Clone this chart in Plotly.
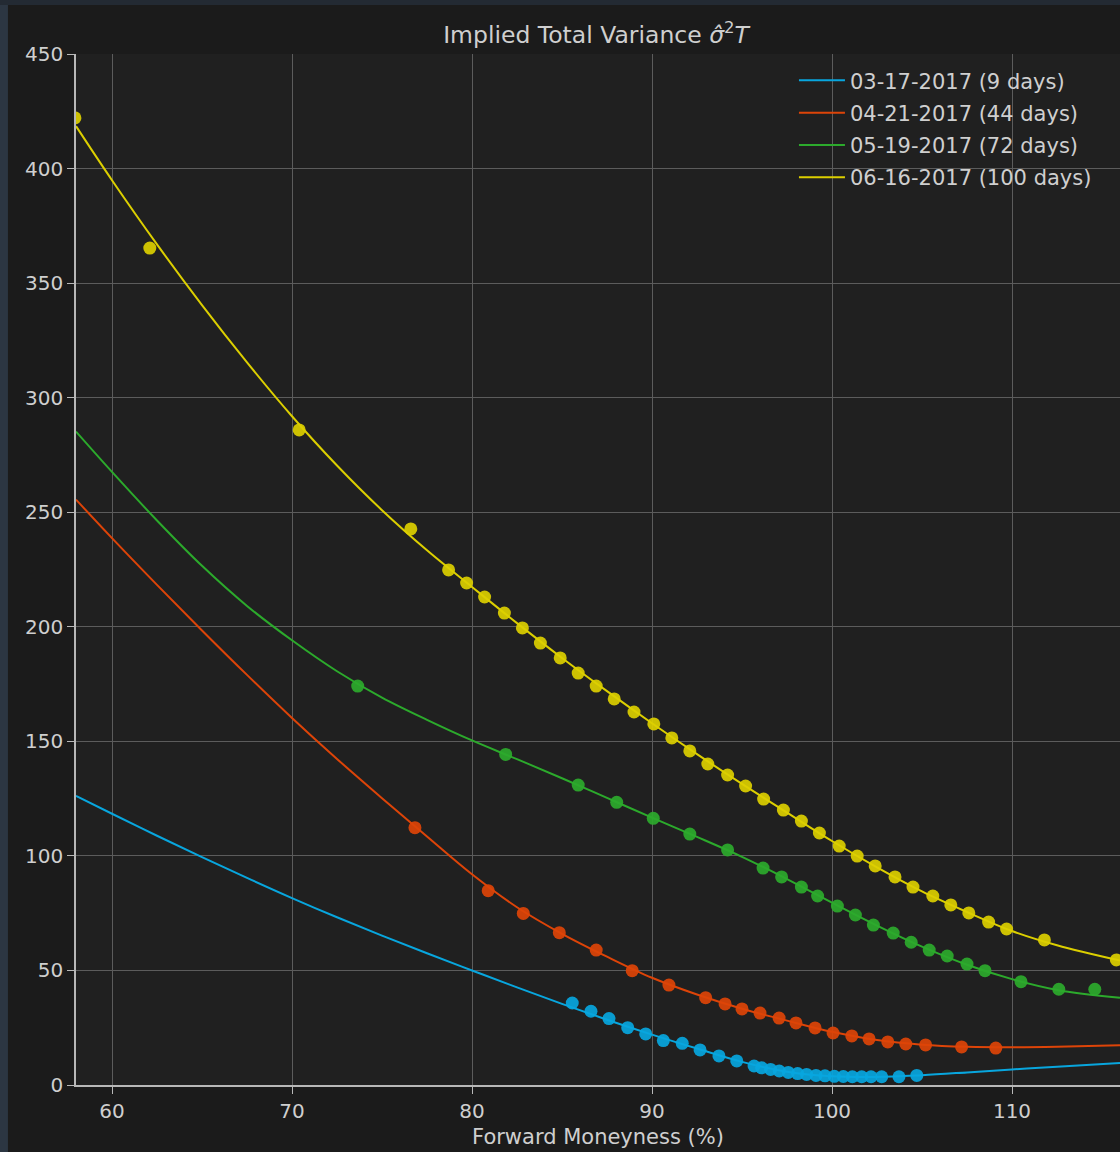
import plotly.graph_objects as go

# ---------------- data ----------------
series_names = ["03-17-2017 (9 days)", "04-21-2017 (44 days)",
                "05-19-2017 (72 days)", "06-16-2017 (100 days)"]
series_colors = ["#08a6de", "#dd4408", "#2caa2c", "#dccf00"]

# fitted curves (on a grid of moneyness)
curve_x = [58, 60, 62.5, 65, 67.5, 70, 72.5, 75, 77.5, 80, 82.5, 85, 87.5, 90,
           92.5, 95, 97.5, 100, 102.5, 105, 107.5, 110, 112.5, 116]
curve_blue = [126.2, 118.4, 108.8, 99.5, 90.4, 81.6, 73.2, 65.2, 57.5, 50.0,
              42.6, 35.4, 28.5, 22.0, 15.9, 10.1, 5.8, 3.8, 3.5, 4.3, 5.5, 6.8,
              8.0, 9.6]
curve_red = [255.5, 238.7, 218.3, 198.4, 179.0, 160.2, 142.3, 125.2, 108.5,
             92.0, 77.6, 66.0, 56.0, 46.8, 39.5, 33.3, 28.1, 23.2, 19.6, 17.6,
             16.7, 16.5, 16.7, 17.3]
curve_green = [285.2, 267.6, 246.4, 226.6, 209.1, 194.1, 180.6, 169.1, 159.4,
               150.4, 142.2, 133.9, 125.3, 116.7, 108.3, 99.6, 89.9, 79.6,
               69.6, 60.4, 52.5, 46.2, 41.5, 38.1]
curve_yellow = [418.5, 394.9, 366.9, 340.4, 315.4, 291.9, 270.4, 250.9, 233.4,
                217.4, 201.6, 186.4, 171.9, 157.9, 144.4, 131.4, 118.9, 106.5,
                95.0, 84.5, 75.5, 67.2, 61.0, 54.3]

# market observations
pts_blue_x = [85.57, 86.61, 87.61, 88.65, 89.65, 90.63, 91.68, 92.67, 93.72,
              94.71, 95.67, 96.09, 96.59, 97.07, 97.57, 98.09, 98.59, 99.11,
              99.61, 100.13, 100.63, 101.13, 101.65, 102.17, 102.76, 103.72,
              104.71]
pts_blue_y = [35.8, 32.2, 29.0, 25.0, 22.3, 19.4, 18.2, 15.3, 12.7, 10.5, 8.3,
              7.5, 6.8, 6.1, 5.5, 5.0, 4.6, 4.2, 4.0, 3.8, 3.7, 3.6, 3.6, 3.6,
              3.6, 3.6, 4.2]
pts_red_x = [76.83, 80.9, 82.85, 84.85, 86.9, 88.9, 90.94, 92.98, 94.06, 95.0,
             96.0, 97.06, 98.0, 99.06, 100.06, 101.1, 102.06, 103.1, 104.1,
             105.2, 107.2, 109.1]
pts_red_y = [112.3, 84.8, 74.9, 66.5, 58.9, 49.9, 43.6, 38.1, 35.4, 33.2, 31.4,
             29.2, 27.1, 24.9, 22.7, 21.4, 20.1, 18.8, 17.9, 17.5, 16.6, 16.1]
pts_green_x = [73.65, 81.87, 85.9, 88.04, 90.07, 92.1, 94.2, 96.17, 97.2, 98.3,
               99.2, 100.3, 101.3, 102.3, 103.4, 104.4, 105.4, 106.4, 107.5,
               108.5, 110.5, 112.6, 114.6]
pts_green_y = [174.1, 144.3, 130.9, 123.4, 116.4, 109.5, 102.6, 94.7, 90.8,
               86.4, 82.5, 78.1, 74.2, 69.8, 66.3, 62.3, 58.9, 56.3, 52.8, 49.9,
               45.1, 41.8, 41.8]
pts_yellow_x = [57.94, 62.1, 70.4, 76.6, 78.7, 79.7, 80.7, 81.8, 82.8, 83.8,
                84.9, 85.9, 86.9, 87.9, 89.0, 90.1, 91.1, 92.1, 93.1, 94.2, 95.2,
                96.2, 97.3, 98.3, 99.3, 100.4, 101.4, 102.4, 103.5, 104.5,
                105.6, 106.6, 107.6, 108.7, 109.7, 111.8, 115.8]
pts_yellow_y = [422.1, 365.3, 285.9, 242.7, 224.8, 219.1, 213.0, 206.0, 199.5,
                192.9, 186.4, 179.8, 174.1, 168.5, 162.8, 157.6, 151.5, 145.8,
                140.1, 135.3, 130.5, 124.8, 120.0, 115.2, 110.0, 104.3, 99.9,
                95.6, 90.8, 86.4, 82.5, 78.6, 75.1, 71.1, 68.1, 63.3, 54.6]

x_ticks = [60, 70, 80, 90, 100, 110]
y_ticks = [0, 50, 100, 150, 200, 250, 300, 350, 400, 450]

curves = [curve_blue, curve_red, curve_green, curve_yellow]
pts = [(pts_blue_x, pts_blue_y), (pts_red_x, pts_red_y),
       (pts_green_x, pts_green_y), (pts_yellow_x, pts_yellow_y)]

# ---------------- figure ----------------
FONT = "DejaVu Sans"
TXT = "#cfcfcf"
fig = go.Figure()

for name, col, cy, (px, py) in zip(series_names, series_colors, curves, pts):
    fig.add_trace(go.Scatter(x=curve_x, y=cy, mode="lines", name=name,
                             legendgroup=name,
                             line=dict(color=col, width=2, shape="spline",
                                       smoothing=1.0)))
    fig.add_trace(go.Scatter(x=px, y=py, mode="markers", name=name,
                             legendgroup=name, showlegend=False,
                             marker=dict(color=col, size=13, opacity=0.92,
                                         line=dict(width=0))))

axis_common = dict(showgrid=True, gridcolor="#5c5c5c", gridwidth=1,
                   zeroline=False, showline=True, linecolor="#b8b8b8",
                   linewidth=1.5, ticks="outside", ticklen=7, tickwidth=1.2,
                   tickcolor="#b8b8b8", tickfont=dict(family=FONT, size=20,
                                                      color=TXT))

fig.update_xaxes(range=[58, 116], tickvals=x_ticks,
                 title=dict(text="Forward Moneyness (%)", standoff=8,
                            font=dict(family=FONT, size=21, color=TXT)),
                 **axis_common)
fig.update_yaxes(range=[0, 450], tickvals=y_ticks, **axis_common)

# notebook frame strips
fig.add_shape(type="rect", xref="paper", yref="paper", x0=-0.08, x1=-0.0652,
              y0=-0.07, y1=1.06, fillcolor="#2c3642", line_width=0, layer="below")
fig.add_shape(type="rect", xref="paper", yref="paper", x0=-0.08, x1=1.01,
              y0=1.0476, y1=1.06, fillcolor="#232a33", line_width=0, layer="below")

fig.update_layout(
    width=1120, height=1152,
    margin=dict(l=76, r=0, t=54, b=67),
    paper_bgcolor="#1b1b1b", plot_bgcolor="#202020",
    font=dict(family=FONT, color=TXT),
    title=dict(text="Implied Total Variance <i>σ̂</i><sup>2</sup><i>T</i>",
               x=596 / 1120, xanchor="center", yref="container",
               y=1 - 35 / 1152, yanchor="middle",
               font=dict(family=FONT, size=23.5, color=TXT)),
    legend=dict(x=0.6877, xanchor="left", y=0.994, yanchor="top",
                bgcolor="rgba(0,0,0,0)", font=dict(family=FONT, size=21,
                                                   color=TXT),
                itemwidth=46, tracegroupgap=2),
    showlegend=True,
)

fig.write_html("out.html")
